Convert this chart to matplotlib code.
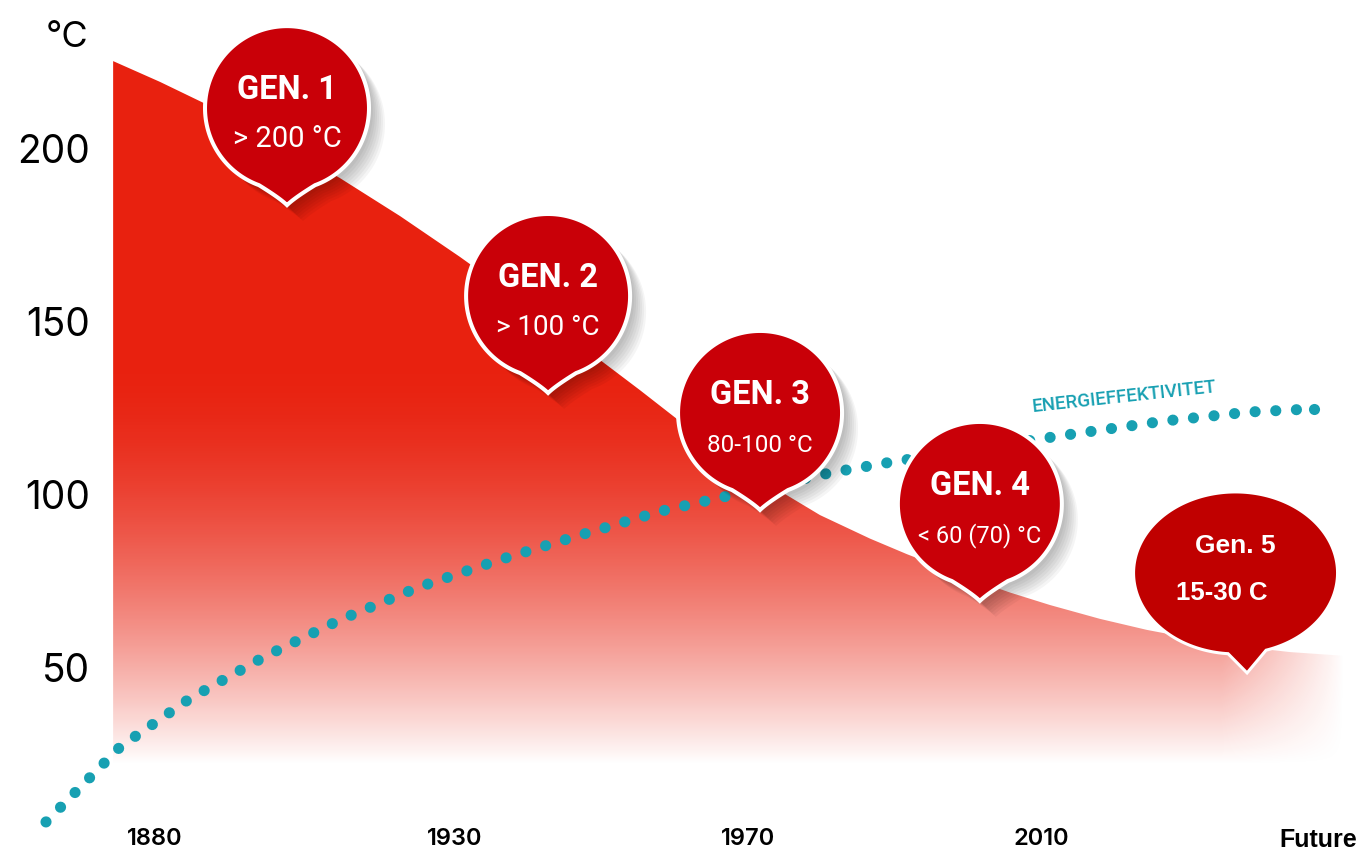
import numpy as np
import matplotlib
matplotlib.use("Agg")
import matplotlib.pyplot as plt
from matplotlib.path import Path
from matplotlib.patches import PathPatch, Polygon
from matplotlib.transforms import Affine2D, ScaledTranslation

# x axis = position of the period labels
periods = ["1880", "1930", "1970", "2010", "Future"]
period_pos = [0, 1.03, 2.04, 3.05, 4.0]
temp_ticks = [50, 100, 150, 200]

temp_x = [-0.144, 0.017, 0.224, 0.430, 0.636, 0.843, 1.049, 1.255, 1.462, 1.668,
          1.874, 2.081, 2.287, 2.459, 2.586, 2.769, 2.941, 3.078, 3.250, 3.412,
          3.594, 3.766, 3.904, 4.093]
temp_y = [225.4, 219.4, 211.0, 201.7, 191.6, 180.6, 168.8, 156.4, 143.4, 130.3,
          116.8, 104.6, 94.2, 87.4, 82.9, 76.9, 71.8, 68.2, 64.2, 61.0,
          58.1, 55.9, 54.6, 53.5]

# energy efficiency, dotted line (same vertical scale as drawn)
eff_x = [-0.375, -0.12, 0.117, 0.375, 0.636, 0.908, 1.183, 1.462, 1.744, 1.954,
         2.322, 2.531, 3.113, 3.474, 3.766, 3.986]
eff_y = [5.5, 27.2, 41.0, 53.2, 63.9, 73.4, 81.2, 88.4, 95.4, 99.4,
         106.4, 109.5, 117.1, 121.4, 124.0, 124.9]

# generation bubbles (anchor = tip of the pointer)
gen_names = ["GEN. 1", "GEN. 2", "GEN. 3", "GEN. 4"]
gen_temps = ["> 200 °C", "> 100 °C", "80-100 °C", "< 60 (70) °C"]
gen_temp_size = [21, 20, 17.5, 17]
gen_x = [0.454, 1.352, 2.081, 2.837]
gen_y = [183.2, 128.9, 95.1, 68.8]
gen5_name = "Gen. 5"
gen5_temp = "15-30 C"
gen5_x, gen5_y = 3.756, 48.0

RED = (0.91, 0.13, 0.06)
BUBBLE = "#c90008"
TEAL = "#17a0b2"

fig = plt.figure(figsize=(13.62, 8.5), dpi=100)
fig.patch.set_facecolor("white")
ax = fig.add_axes([100 / 1362, 28 / 850, 1262 / 1362, 822 / 850])
XL, YL = (-0.18917, 4.15133), (5.49, 243.06)
for s in ax.spines.values():
    s.set_visible(False)

# red area with fade to white
gx = np.linspace(temp_x[0], temp_x[-1], 500)
gy = np.linspace(0, 230, 500)
GX, GY = np.meshgrid(gx, gy)
tv = np.clip((GY - 22) / (135 - 22), 0, 1)
a_v = 1 - (1 - tv) ** 1.6
a_h = np.clip((temp_x[-1] - GX) / 0.42, 0, 1) ** 0.9
rgba = np.zeros(GX.shape + (4,))
rgba[..., 0], rgba[..., 1], rgba[..., 2] = RED
rgba[..., 3] = a_v * a_h
im = ax.imshow(rgba, extent=[gx[0], gx[-1], gy[0], gy[-1]], origin="lower",
               aspect="auto", interpolation="bilinear", zorder=1)
area = Polygon(np.column_stack([temp_x + [temp_x[-1], temp_x[0]], temp_y + [0, 0]]),
               closed=True, transform=ax.transData, facecolor="none", edgecolor="none")
ax.add_patch(area)
im.set_clip_path(area)
ax.set_xlim(*XL)
ax.set_ylim(*YL)

# dotted efficiency line
ax.plot(eff_x, eff_y, color=TEAL, lw=8, linestyle=(0, (0.01, 1.85)),
        dash_capstyle="round", clip_on=False, zorder=3)
ax.plot(eff_x[-1:], eff_y[-1:], "o", color=TEAL, ms=8, mec="none", zorder=3)
ax.annotate("ENERGIEFFEKTIVITET", xy=(3.02, 124.0), xycoords="data",
            rotation=6.2, rotation_mode="anchor", ha="left", va="baseline",
            fontsize=13.5, family="Roboto", weight="medium", color=TEAL, zorder=6)


def pin_path(r, cy, half, tip):
    # circle with a pointed bottom, in pixels relative to the tip (y up)
    a = np.radians(half)
    t = np.linspace(-np.pi / 2 + a, 3 * np.pi / 2 - a, 160)
    arc = np.column_stack([r * np.cos(t), cy + r * np.sin(t)])
    left, right = arc[-1], arc[0]
    s = np.linspace(0, 1, 20)[:, None]
    ctrl_l = np.array([left[0] * 0.25, tip + (left[1] - tip) * 0.35])
    ctrl_r = np.array([right[0] * 0.25, tip + (right[1] - tip) * 0.35])
    tipp = np.array([0, tip])
    down = (1 - s) ** 2 * left + 2 * (1 - s) * s * ctrl_l + s ** 2 * tipp
    up = (1 - s) ** 2 * tipp + 2 * (1 - s) * s * ctrl_r + s ** 2 * right
    verts = np.vstack([arc, down[1:], up[1:-1]])
    return Path(np.vstack([verts, verts[:1]]), closed=True)


def ellipse_path(w, h, cx, cy, bl, br, tip):
    t0 = np.arctan2(-np.sqrt(1 - ((br - cx) / w) ** 2), (br - cx) / w)
    t1 = np.arctan2(-np.sqrt(1 - ((bl - cx) / w) ** 2), (bl - cx) / w) + 2 * np.pi
    t = np.linspace(t0, t1, 200)
    arc = np.column_stack([cx + w * np.cos(t), cy + h * np.sin(t)])
    verts = np.vstack([arc, [[0, tip]]])
    return Path(np.vstack([verts, verts[:1]]), closed=True)


def at(x, y):
    return Affine2D() + ScaledTranslation(x, y, ax.transData)


for name, temp, size, x, y in zip(gen_names, gen_temps, gen_temp_size, gen_x, gen_y):
    p = pin_path(82, 99, 20, 2)
    for k in range(7):
        ax.add_patch(PathPatch(p, facecolor="black", edgecolor="none", alpha=0.04,
                               transform=Affine2D().translate(4 + 2 * k, -4 - 2 * k) + at(x, y),
                               zorder=4, clip_on=False))
    ax.add_patch(PathPatch(p, facecolor=BUBBLE, edgecolor="white", lw=2.9,
                           joinstyle="miter", transform=at(x, y), zorder=5, clip_on=False))
    ax.annotate(name, xy=(x, y), xytext=(0, 108), textcoords="offset pixels",
                ha="center", va="baseline", fontsize=23.5, family="Roboto",
                weight="bold", color="white", zorder=7)
    ax.annotate(temp, xy=(x, y), xytext=(0, 60), textcoords="offset pixels",
                ha="center", va="baseline", fontsize=size, family="Roboto",
                color="white", zorder=7)

p5 = ellipse_path(102, 81, -11.5, 102, -19, 19, 2)
ax.add_patch(PathPatch(p5, facecolor="#c00000", edgecolor="white", lw=2.2,
                       joinstyle="miter", transform=at(gen5_x, gen5_y), zorder=5, clip_on=False))
ax.annotate(gen5_name, xy=(gen5_x, gen5_y), xytext=(-12, 122), textcoords="offset pixels",
            ha="center", va="baseline", fontsize=19, family="Liberation Sans",
            weight="bold", color="white", zorder=7)
ax.annotate(gen5_temp, xy=(gen5_x, gen5_y), xytext=(-25, 75), textcoords="offset pixels",
            ha="center", va="baseline", fontsize=18.5, family="Liberation Sans",
            weight="bold", color="white", zorder=7)

# axes labels
ax.set_yticks(temp_ticks)
ax.set_yticklabels([str(v) for v in temp_ticks], fontsize=28, family="Inter")
ax.set_xticks(period_pos)
ax.set_xticklabels(periods)
ax.tick_params(length=0)
ax.tick_params(axis="y", pad=7.2)
ax.tick_params(axis="x", pad=4.3)
for lab in ax.get_xticklabels():
    if lab.get_text() == "Future":
        lab.set_fontfamily("Liberation Sans")
        lab.set_fontweight("bold")
        lab.set_fontsize(18)
    else:
        lab.set_fontfamily("Inter")
        lab.set_fontweight("semibold")
        lab.set_fontsize(17)
ax.annotate("°C", xy=(0, 229.5), xycoords=("axes fraction", "data"),
            xytext=(-12, 0), textcoords="offset pixels", ha="right", va="baseline",
            fontsize=26, family="Inter", annotation_clip=False)

fig.savefig("out.png", dpi=100)
